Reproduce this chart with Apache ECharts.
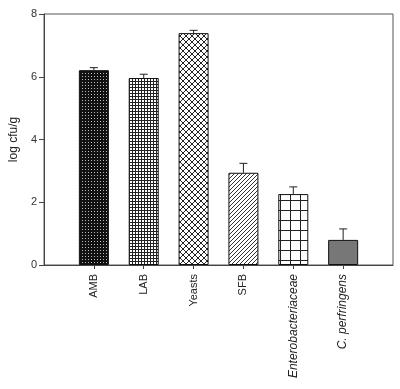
<!DOCTYPE html>
<html>
<head>
<meta charset="utf-8">
<script src="https://cdn.jsdelivr.net/npm/echarts@6/dist/echarts.min.js"></script>
<style>
  html, body { margin: 0; padding: 0; background: #fff; }
  #chart { width: 400px; height: 389px; }
</style>
</head>
<body>
<div id="chart"></div>
<script>
const categories = ["AMB", "LAB", "Yeasts", "SFB", "Enterobacteriaceae", "C. perfringens"];
const italicCats = ["Enterobacteriaceae", "C. perfringens"];
const means = [6.21, 5.96, 7.39, 2.94, 2.26, 0.80];
const errors = [0.08, 0.12, 0.09, 0.30, 0.23, 0.35];
const yTicks = [0, 2, 4, 6, 8];

// small canvas fills that mimic the SigmaPlot hatch patterns
function makePattern(size, draw) {
  const c = document.createElement("canvas");
  c.width = size; c.height = size;
  const ctx = c.getContext("2d");
  draw(ctx, size);
  return { image: c, repeat: "repeat" };
}

const patterns = [
  // dense dark dots
  makePattern(3, (ctx, s) => {
    ctx.fillStyle = "#111"; ctx.fillRect(0, 0, s, s);
    ctx.fillStyle = "#bbb"; ctx.fillRect(1, 1, 1, 1);
  }),
  // fine grid
  makePattern(3, (ctx, s) => {
    ctx.fillStyle = "#fff"; ctx.fillRect(0, 0, s, s);
    ctx.fillStyle = "#222"; ctx.fillRect(0, 0, s, 1); ctx.fillRect(0, 0, 1, s);
  }),
  // diagonal crosshatch
  makePattern(6, (ctx, s) => {
    ctx.fillStyle = "#fff"; ctx.fillRect(0, 0, s, s);
    ctx.strokeStyle = "#222"; ctx.lineWidth = 1;
    ctx.beginPath();
    ctx.moveTo(0, 0); ctx.lineTo(s, s);
    ctx.moveTo(s, 0); ctx.lineTo(0, s);
    ctx.stroke();
  }),
  // diagonal lines /
  makePattern(4, (ctx, s) => {
    ctx.fillStyle = "#fff"; ctx.fillRect(0, 0, s, s);
    ctx.strokeStyle = "#333"; ctx.lineWidth = 1;
    ctx.beginPath();
    ctx.moveTo(0, s); ctx.lineTo(s, 0);
    ctx.moveTo(-1, 1); ctx.lineTo(1, -1);
    ctx.moveTo(s - 1, s + 1); ctx.lineTo(s + 1, s - 1);
    ctx.stroke();
  }),
  // coarse grid
  makePattern(10, (ctx, s) => {
    ctx.fillStyle = "#fff"; ctx.fillRect(0, 0, s, s);
    ctx.fillStyle = "#222"; ctx.fillRect(0, 0, s, 1); ctx.fillRect(0, 0, 1, s);
  }),
  "#777"
];

const barData = means.map((v, i) => ({
  value: [i + 1, v],
  itemStyle: { color: patterns[i] }
}));
const errData = means.map((v, i) => [i + 1, v, errors[i]]);

const chart = echarts.init(document.getElementById("chart"));
chart.setOption({
  animation: false,
  textStyle: { fontFamily: "Liberation Sans, Arial, sans-serif" },
  grid: {
    left: 43, right: 7, top: 14, bottom: 124,
    show: true, borderColor: "#555", borderWidth: 1
  },
  xAxis: {
    type: "value",
    min: 0, max: 7, interval: 1,
    splitLine: { show: false },
    axisLine: { lineStyle: { color: "#444" } },
    axisTick: { customValues: [1, 2, 3, 4, 5, 6], length: 4, lineStyle: { color: "#444" } },
    axisLabel: {
      customValues: [1, 2, 3, 4, 5, 6],
      rotate: 90,
      margin: 9,
      fontSize: 11,
      color: "#222",
      formatter: v => {
        const name = categories[v - 1];
        return italicCats.includes(name) ? "{i|" + name + "}" : name;
      },
      rich: { i: { fontStyle: "italic", fontSize: 12, color: "#222" } }
    }
  },
  yAxis: {
    type: "value",
    min: 0, max: 8, interval: 2,
    name: "log cfu/g",
    nameLocation: "middle",
    nameGap: 19,
    nameTextStyle: { fontSize: 12, color: "#222" },
    splitLine: { show: false },
    axisLine: { show: true, lineStyle: { color: "#444" } },
    axisTick: { show: true, length: 5, lineStyle: { color: "#444" } },
    axisLabel: {
      fontSize: 11, color: "#333", margin: 7,
      formatter: v => (yTicks.includes(v) ? String(v) : "")
    }
  },
  series: [
    {
      type: "bar",
      data: barData,
      barWidth: 30,
      itemStyle: { borderColor: "#111", borderWidth: 1 }
    },
    {
      type: "custom",
      data: errData,
      z: 3,
      renderItem: (params, api) => {
        const x = api.value(0), m = api.value(1), e = api.value(2);
        const base = api.coord([x, m]);
        const top = api.coord([x, m + e]);
        const half = 4;
        return {
          type: "group",
          children: [
            { type: "line", shape: { x1: base[0], y1: base[1], x2: top[0], y2: top[1] },
              style: { stroke: "#222", lineWidth: 1 } },
            { type: "line", shape: { x1: top[0] - half, y1: top[1], x2: top[0] + half, y2: top[1] },
              style: { stroke: "#222", lineWidth: 1 } }
          ]
        };
      }
    }
  ]
});
</script>
</body>
</html>
